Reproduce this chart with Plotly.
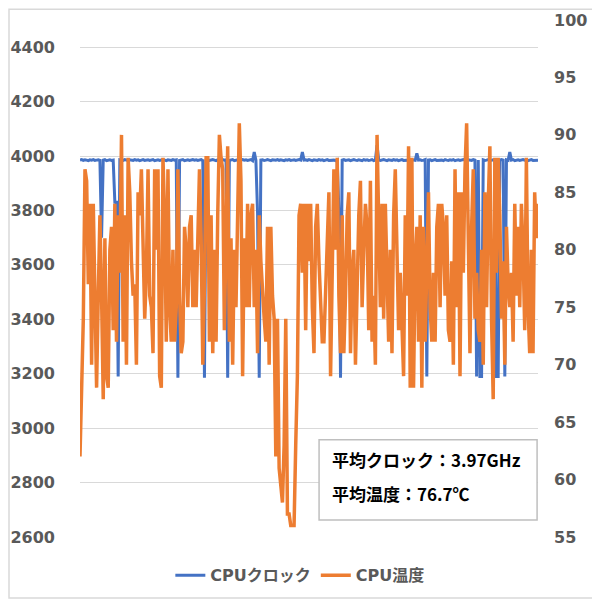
import plotly.graph_objects as go
from plotly.subplots import make_subplots

# CPU clock (MHz) sampled over the run
clock_mhz = [
    3985, 3987, 3984, 3986, 3985, 3983, 3986, 3985, 3987, 3984,
    3985, 3986, 3984, 3700, 3985, 3987, 3983, 3985, 3986, 3984,
    3985, 3830, 3830, 3190, 3986, 3985, 3984, 3987, 3985, 3983,
    3986, 3985, 3984, 3987, 3985, 3986, 3983, 3985, 3987, 3984,
    3985, 3986, 3984, 3985, 3987, 3983, 3985, 3986, 3984, 3985,
    3987, 3985, 3983, 3986, 3985, 3984, 3987, 3985, 3986, 3185,
    3984, 3985, 3987, 3983, 3985, 3986, 3984, 3985, 3987, 3985,
    3986, 3984, 3985, 3987, 3983, 3185, 3985, 3986, 3984, 3985,
    3987, 3985, 3983, 3986, 3985, 3984, 3987, 3985, 3986, 3185,
    3984, 3985, 3987, 3983, 3985, 3986, 3984, 3985, 3987, 3985,
    3986, 3984, 3985, 3987, 3983, 4015, 3985, 3790, 3185, 3985,
    3986, 3984, 3985, 3987, 3985, 3983, 3986, 3985,
    3985, 3987, 3984, 3986, 3985, 3983, 3986, 3985, 3987, 3984,
    3985, 3986, 3984, 3985, 3987, 3985, 4015,
    3985, 3986, 3984, 3987, 3985, 3983, 3986, 3985, 3984, 3987,
    3985, 3986, 3983, 3985, 3987, 3984, 3985, 3986, 3985, 3983,
    3986, 3800, 3185, 3985, 3987, 3984, 3985, 3986, 3983, 3985,
    3987, 3985, 3984, 3986, 3985, 3983, 3987, 3985, 3986, 3984,
    3985, 3987, 3983, 3985, 4040, 3986, 3984, 3985, 3987, 3985,
    3983, 3986, 3985, 3984, 3987, 3985, 3986, 3983, 3985, 3987,
    3984, 3985, 3986, 3985, 3983, 3987, 3985, 3984, 4010, 3985,
    3986, 3984, 3985, 3987, 3190, 3985, 3986, 3983, 3985, 3987,
    3984, 3985, 3986, 3985, 3983, 3987, 3985, 3984, 3986, 3985,
    3987, 3983, 3985, 3986, 3984, 3985, 3987, 3985, 3983, 3986,
    3985, 3984, 3987, 3985, 3190, 3985, 3190, 3190, 3986, 3984,
    3985, 3987, 3983, 3985, 3986, 3984, 3190, 3190, 3985, 3987,
    3985, 3190, 3986, 3984, 4015, 3985, 3987, 3983, 3985, 3986,
    3984, 3985, 3987, 3985, 3986, 3983, 3985, 3987, 3984, 3985,
    3986, 3985,
]

# CPU temperature (deg C), same samples
temp_c = [
    62, 67, 74, 87, 86, 77, 84, 70, 84, 76,
    68, 76, 83, 76, 67, 81, 69, 68, 80, 82,
    73, 84, 72, 83, 78, 90, 72, 83, 70, 88,
    85, 79, 76, 77, 70, 85, 83, 87, 79, 74,
    78, 87, 76, 75, 71, 87, 80, 87, 69, 68,
    88, 83, 72, 87, 75, 72, 80, 72, 75, 87,
    76, 71, 72, 82, 80, 75, 82, 83, 75, 80,
    75, 80, 87, 81, 70, 77, 88, 88, 72, 83,
    71, 80, 72, 83, 90, 88, 87, 73, 80, 89,
    72, 81, 70, 80, 75, 85, 91, 86, 69, 81,
    75, 84, 75, 83, 84, 75, 80, 71, 83, 79,
    76, 74, 72, 82, 70, 82, 76, 74,
    62, 74, 61, 59, 58, 63, 74, 57, 57, 56,
    56, 56, 63, 69, 83, 84, 78,
    84, 73, 84, 79, 84, 75, 71, 82, 84, 79,
    75, 72, 72, 76, 82, 85, 69, 78, 87, 80,
    88, 76, 71, 83, 71, 76, 83, 85, 71, 78,
    80, 70, 77, 83, 86, 75, 80, 84, 82, 73,
    86, 72, 76, 70, 90, 84, 75, 84, 74, 84,
    77, 72, 80, 71, 83, 87, 80, 73, 78, 72,
    69, 83, 76, 89, 68, 88, 68, 79, 82, 72,
    83, 68, 82, 72, 78, 85, 75, 72, 78, 72,
    82, 84, 75, 84, 82, 76, 83, 73, 72, 79,
    70, 87, 75, 85, 69, 85, 78, 87, 91, 78,
    71, 82, 87, 74, 78, 73, 72, 80, 70, 85,
    75, 84, 89, 74, 67, 88, 78, 88, 83, 74,
    79, 70, 82, 77, 75, 78, 72, 84, 76, 82,
    75, 84, 80, 73, 88, 75, 71, 80, 71, 85,
    81, 84,
]

clock_ticks = [2600, 2800, 3000, 3200, 3400, 3600, 3800, 4000, 4200, 4400]
temp_ticks = [55, 60, 65, 70, 75, 80, 85, 90, 95, 100]

summary_lines = ["平均クロック：3.97GHz", "平均温度：76.7℃"]

BLUE = "#4472C4"
ORANGE = "#ED7D31"
GREY = "#595959"
TICK_FONT = dict(family="DejaVu Sans", size=16, color=GREY)

x = list(range(len(temp_c)))

fig = make_subplots(specs=[[{"secondary_y": True}]])
fig.add_trace(go.Scatter(x=x, y=clock_mhz, name="CPUクロック", mode="lines",
                         line=dict(color=BLUE, width=3)), secondary_y=False)
fig.add_trace(go.Scatter(x=x, y=temp_c, name="CPU温度", mode="lines",
                         line=dict(color=ORANGE, width=3.5)), secondary_y=True)

fig.update_xaxes(range=[0, len(x) - 1], domain=[0, 1], visible=False)
fig.update_yaxes(range=[2600, 4500], tickvals=clock_ticks,
                 ticktext=[f"<b>{v}</b>" for v in clock_ticks],
                 tickfont=TICK_FONT, gridcolor="#d9d9d9", gridwidth=1,
                 zeroline=False, showline=False, ticklabelstandoff=24,
                 automargin=False, secondary_y=False)
fig.update_yaxes(range=[55, 100], tickvals=temp_ticks,
                 ticktext=[f"<b>{v}</b>" for v in temp_ticks],
                 tickfont=TICK_FONT, showgrid=False, zeroline=False,
                 showline=False, ticklabelstandoff=15, automargin=False,
                 secondary_y=True)

# the page has an 8px body margin, so the figure is 592px and the margins absorb it
fig.update_layout(
    width=592, height=592,
    margin=dict(l=72, r=62, t=12, b=63, autoexpand=False),
    paper_bgcolor="white", plot_bgcolor="white",
    font=dict(family="DejaVu Sans, Noto Sans CJK JP", color=GREY),
    legend=dict(orientation="h", x=0.48, xanchor="center", y=-0.074, yanchor="middle",
                itemwidth=30,
                font=dict(family="DejaVu Sans, Noto Sans CJK JP", size=16, color=GREY, weight="bold")),
    shapes=[
        # summary box
        dict(type="rect", xref="paper", yref="paper", x0=0.522, x1=0.998, y0=0.033, y1=0.188,
             line=dict(color="#bfbfbf", width=1.5), fillcolor="white", layer="above"),
        # chart border
        dict(type="rect", xref="paper", yref="paper", x0=-0.155, x1=1.131, y0=-0.118, y1=1.021,
             line=dict(color="#d9d9d9", width=1.5)),
    ],
)

for line, ypos in zip(summary_lines, [0.149, 0.085]):
    fig.add_annotation(text=f"<b>{line}</b>", xref="paper", yref="paper",
                       x=0.546, y=ypos, xanchor="left", yanchor="middle", showarrow=False,
                       font=dict(family="Noto Sans CJK JP", size=17, color="black"))

fig.write_html("out.html")
